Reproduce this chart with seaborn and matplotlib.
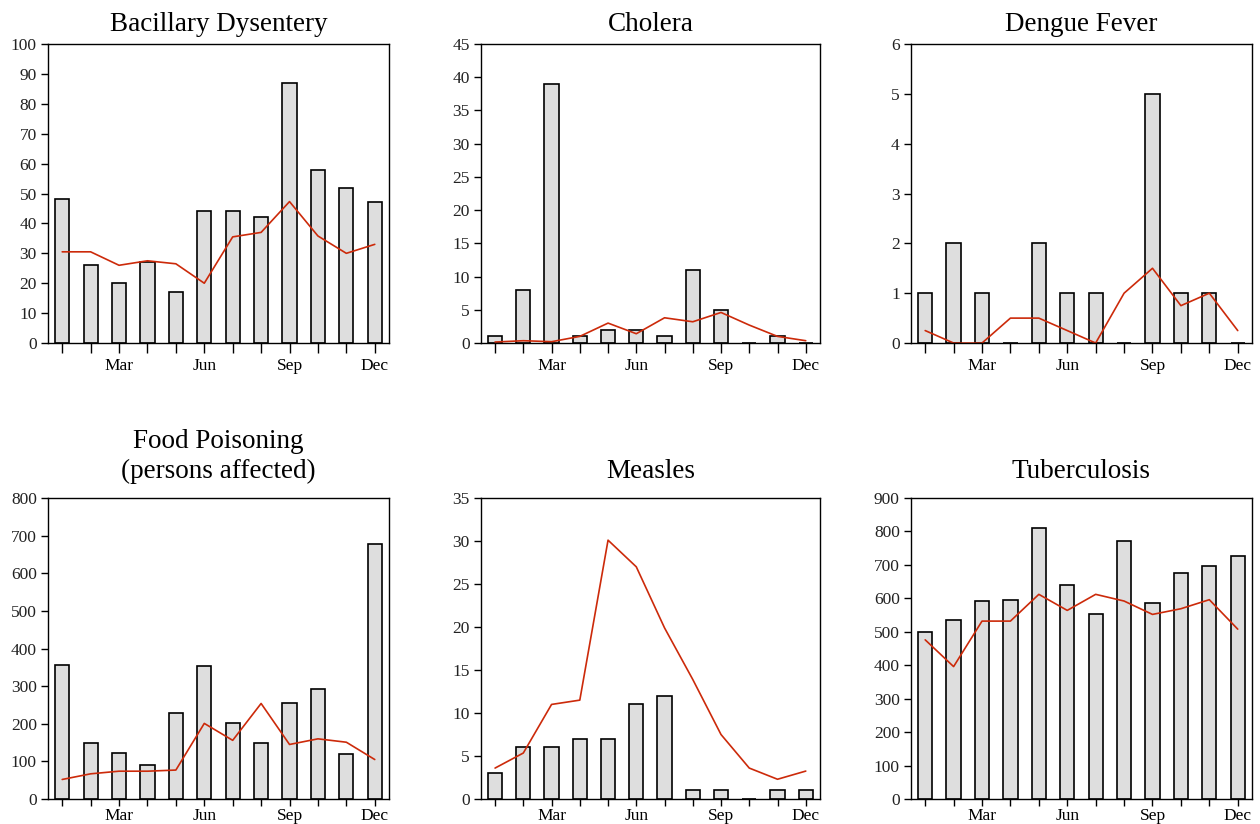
import numpy as np
import pandas as pd
import matplotlib
matplotlib.use("Agg")
import matplotlib.pyplot as plt
import seaborn as sns

# ───────────────────────────── data ──────────────────────────────
MONTHS = ["Jan", "Feb", "Mar", "Apr", "May", "Jun",
          "Jul", "Aug", "Sep", "Oct", "Nov", "Dec"]
SHOWN_MONTHS = ["Mar", "Jun", "Sep", "Dec"]

dysentery_cases = [48, 26, 20, 27, 17, 44, 44, 42, 87, 58, 52, 47]
dysentery_avg   = [30.5, 30.5, 26, 27.5, 26.5, 20, 35.5, 37, 47.3, 35.8, 30, 33]

cholera_cases = [1, 8, 39, 1, 2, 2, 1, 11, 5, 0, 1, 0]
cholera_avg   = [0.15, 0.35, 0.2, 1.0, 3.0, 1.4, 3.8, 3.2, 4.6, 2.7, 1.0, 0.35]

dengue_cases = [1, 2, 1, 0, 2, 1, 1, 0, 5, 1, 1, 0]
dengue_avg   = [0.25, 0, 0, 0.5, 0.5, 0.25, 0, 1.0, 1.5, 0.75, 1.0, 0.25]

food_cases = [357, 148, 123, 91, 229, 354, 201, 149, 255, 293, 120, 678]
food_avg   = [52, 67, 74, 74, 77, 201, 156, 254, 145, 160, 151, 105]

measles_cases = [3, 6, 6, 7, 7, 11, 12, 1, 1, 0, 1, 1]
measles_avg   = [3.6, 5.35, 11.0, 11.5, 30.1, 27.0, 19.9, 13.9, 7.5, 3.6, 2.3, 3.25]

tb_cases = [500, 536, 591, 596, 810, 640, 552, 771, 585, 676, 697, 728]
tb_avg   = [476, 396, 532, 532, 612, 564, 612, 592, 552, 569, 596, 508]

PANELS = [
    ("Bacillary Dysentery", dysentery_cases, dysentery_avg, 100, 10),
    ("Cholera", cholera_cases, cholera_avg, 45, 5),
    ("Dengue Fever", dengue_cases, dengue_avg, 6, 1),
    ("Food Poisoning\n(persons affected)", food_cases, food_avg, 800, 100),
    ("Measles", measles_cases, measles_avg, 35, 5),
    ("Tuberculosis", tb_cases, tb_avg, 900, 100),
]

# ───────────────────────────── style ─────────────────────────────
sns.set_theme(style="ticks")
plt.rcParams["font.family"] = ["Liberation Serif", "DejaVu Serif"]

BAR_COLOR  = "#dedede"
LINE_COLOR = "#cc2a0a"

fig = plt.figure(figsize=(12.6, 8.24), dpi=100)

# axes boxes in figure fractions (left, bottom, width, height)
lefts   = [0.0381, 0.3817, 0.7230]
widths  = [0.2706, 0.2690, 0.2706]
bottoms = [0.5837, 0.0303]
heights = [0.3629, 0.3653]
title_pad = [9.5, 14.5]
xtick_len = [7, 5]
xtick_pad = [4, 1.5]

for i, (title, cases, avg, ymax, step) in enumerate(PANELS):
    row, col = divmod(i, 3)
    ax = fig.add_axes([lefts[col], bottoms[row], widths[col], heights[row]])

    df = pd.DataFrame({"month": MONTHS, "cases": cases})
    sns.barplot(data=df, x="month", y="cases", order=MONTHS,
                color=BAR_COLOR, saturation=1, edgecolor="black",
                linewidth=1.2, width=0.5, ax=ax)
    sns.lineplot(x=np.arange(len(MONTHS)), y=avg, color=LINE_COLOR,
                 linewidth=1.2, ax=ax)

    ax.set_xlim(-0.5, len(MONTHS) - 0.5)
    ax.set_ylim(0, ymax)
    ax.set_yticks(np.arange(0, ymax + step / 2, step))
    ax.set_xticks(np.arange(len(MONTHS)))
    ax.set_xticklabels([m if m in SHOWN_MONTHS else "" for m in MONTHS])
    ax.set_xlabel("")
    ax.set_ylabel("")
    ax.set_title(title, fontsize=19.5, pad=title_pad[row], color="black",
                 linespacing=1.25)

    for side in ["top", "right", "left", "bottom"]:
        ax.spines[side].set_visible(True)
        ax.spines[side].set_color("black")
        ax.spines[side].set_linewidth(1.0)
    ax.tick_params(axis="both", labelsize=12.5, colors="black",
                   direction="out", width=1.0)
    ax.tick_params(axis="y", length=5, pad=3, labelcolor="#222222")
    ax.tick_params(axis="x", length=xtick_len[row], pad=xtick_pad[row])

fig.savefig("out.png", dpi=100)
plt.close(fig)
